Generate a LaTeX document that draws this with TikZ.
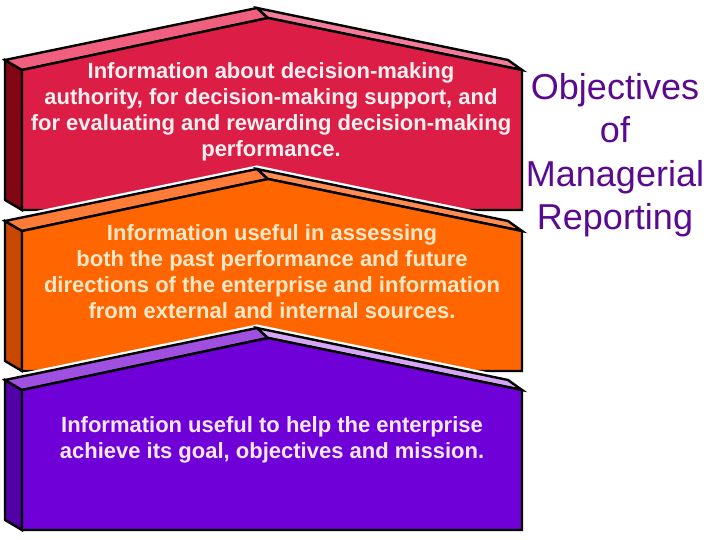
\documentclass[tikz,border=0pt]{standalone}
\usepackage{fontspec}
\setmainfont{Liberation Sans}
\definecolor{redface}{RGB}{220, 30, 70}
\definecolor{redroofl}{RGB}{240, 96, 126}
\definecolor{redroofr}{RGB}{242, 124, 154}
\definecolor{redside}{RGB}{130, 6, 20}
\definecolor{orangeface}{RGB}{255, 102, 0}
\definecolor{orangeroofl}{RGB}{255, 124, 56}
\definecolor{orangeroofr}{RGB}{255, 140, 80}
\definecolor{orangeside}{RGB}{200, 72, 0}
\definecolor{violetface}{RGB}{112, 0, 216}
\definecolor{violetroofl}{RGB}{160, 80, 224}
\definecolor{violetroofr}{RGB}{214, 166, 246}
\definecolor{violetside}{RGB}{82, 0, 168}
\definecolor{titleink}{RGB}{90, 10, 144}
\definecolor{redtext}{RGB}{255, 240, 242}
\definecolor{orangetext}{RGB}{255, 232, 200}
\definecolor{violettext}{RGB}{248, 232, 255}

\begin{document}
\begin{tikzpicture}[x=1pt, y=-1pt, line join=miter,
  edge/.style={draw=black, line width=2.4pt},
  blocktext/.style={align=center, font=\fontsize{22}{26}\selectfont\bfseries}]
  \useasboundingbox (0,0) rectangle (720,540);
  % three stacked blocks, lowest drawn last
  \foreach \t/\face/\rl/\rr/\side in {70/redface/redroofl/redroofr/redside,
      231/orangeface/orangeroofl/orangeroofr/orangeside,
      390/violetface/violetroofl/violetroofr/violetside} {
    \draw[white, line width=7pt] (5,\t-10) -- (257,\t-62) -- (508,\t-10) -- (522,\t)
      -- (522,\t+140) -- (22,\t+140) -- (5,\t+130) -- cycle;
    \filldraw[fill=\side, edge] (22,\t) -- (5,\t-10) -- (5,\t+130) -- (22,\t+140) -- cycle;
    \filldraw[fill=\rl, edge] (22,\t) -- (5,\t-10) -- (257,\t-62) -- (268,\t-52) -- cycle;
    \filldraw[fill=\rr, edge] (268,\t-52) -- (257,\t-62) -- (508,\t-10) -- (522,\t) -- cycle;
    \filldraw[fill=\face, edge] (22,\t+140) -- (22,\t) -- (268,\t-52) -- (522,\t)
      -- (522,\t+140) -- cycle;
  }
  \node[blocktext, text=redtext] (authority) at (271,112)
    {Information about decision-making\\
     authority, for decision-making support, and\\
     for evaluating and rewarding decision-making\\
     performance.};
  \node[blocktext, text=orangetext] (assessing) at (272,272)
    {Information useful in assessing\\
     both the past performance and future\\
     directions of the enterprise and information\\
     from external and internal sources.};
  \node[blocktext, text=violettext] (mission) at (272,440)
    {Information useful to help the enterprise\\
     achieve its goal, objectives and mission.};
  \node[align=center, text=titleink, font=\fontsize{36}{43.5}\selectfont] (title) at (615,155)
    {Objectives\\ of\\ Managerial\\ Reporting};
\end{tikzpicture}
\end{document}
